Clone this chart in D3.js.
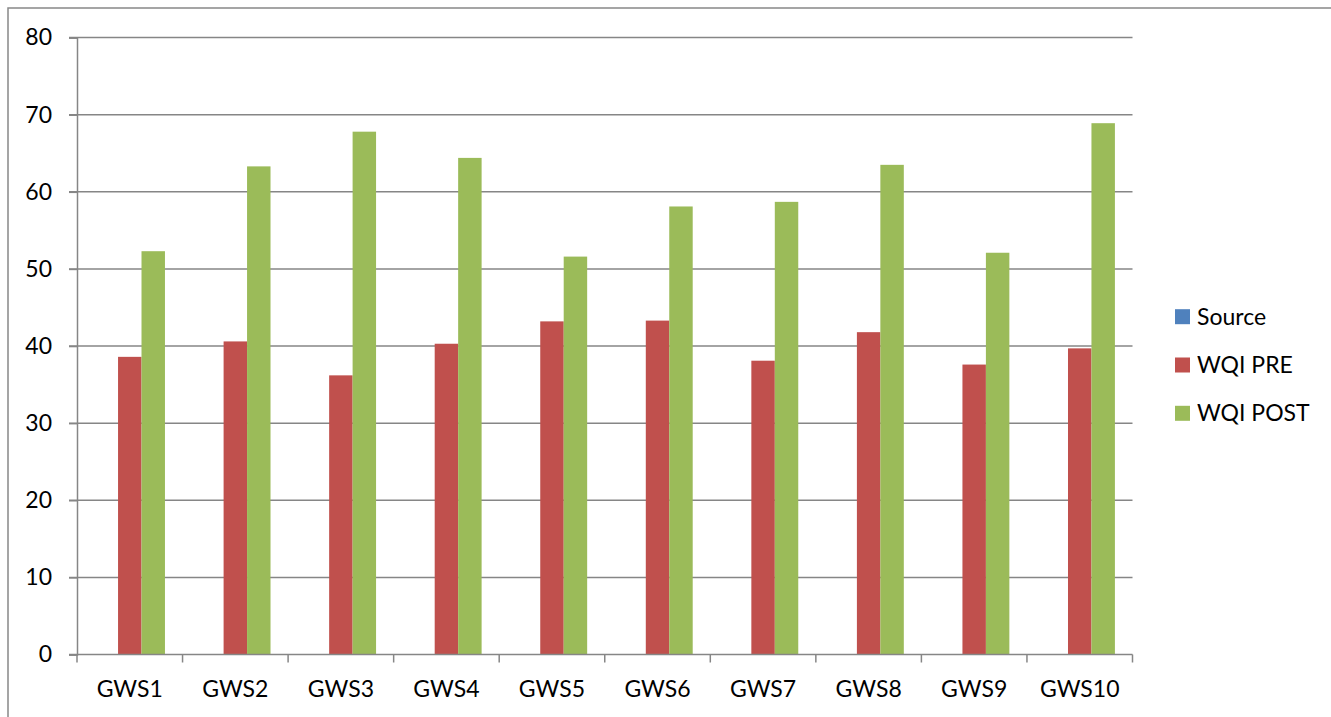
<!DOCTYPE html>
<html><head><meta charset="utf-8">
<script src="https://cdn.jsdelivr.net/npm/d3@7"></script>
<style>body{margin:0;background:#fff}svg{display:block}text{font-family:"Lato","Open Sans",sans-serif;fill:#000}</style>
</head><body><svg id="c" width="1331" height="717"></svg>
<script>
const categories = ["GWS1","GWS2","GWS3","GWS4","GWS5","GWS6","GWS7","GWS8","GWS9","GWS10"];
const seriesNames = ["Source","WQI PRE","WQI POST"];
const sourceValues = [0,0,0,0,0,0,0,0,0,0];
const wqiPre = [38.6,40.6,36.2,40.3,43.2,43.3,38.1,41.8,37.6,39.7];
const wqiPost = [52.3,63.3,67.8,64.4,51.6,58.1,58.7,63.5,52.1,68.9];
const yTicks = [0,10,20,30,40,50,60,70,80];
const colors = ["#4F81BD","#C0504D","#9BBB59"];

const FS = 23;
const svg = d3.select("#c");
const L = 77, R = 1132.5, T = 37.6, B = 654.5;
// outer border
svg.append("path").attr("d","M8,717 L8,8 L1331,8").attr("fill","none").attr("stroke","#888").attr("stroke-width",1.5);

const x = d3.scaleBand().domain(categories).range([L,R]).paddingInner(0).paddingOuter(0);
const y = d3.scaleLinear().domain([0,80]).range([B,T]);
const groupW = x.bandwidth()/4.5*3;
const xs = d3.scaleBand().domain(seriesNames).range([0,groupW]);

// gridlines
svg.append("g").selectAll("line").data(yTicks.filter(d=>d>0)).join("line")
  .attr("x1",L-8).attr("x2",R).attr("y1",d=>y(d)).attr("y2",d=>y(d))
  .attr("stroke","#868686").attr("stroke-width",1.5);

const data = [sourceValues, wqiPre, wqiPost];
data.forEach((vals,si)=>{
  svg.append("g").selectAll("rect").data(vals).join("rect")
    .attr("x",(d,i)=>x(categories[i]) + (x.bandwidth()-groupW)/2 + xs(seriesNames[si]))
    .attr("width",xs.bandwidth())
    .attr("y",d=>y(d)).attr("height",d=>B-y(d))
    .attr("fill",colors[si]);
});

// y axis
const ya = svg.append("g").attr("transform",`translate(${L},0)`)
  .call(d3.axisLeft(y).tickValues(yTicks).tickSize(8).tickPadding(17));
ya.select(".domain").attr("stroke","#868686").attr("stroke-width",1.5);
ya.selectAll(".tick line").attr("stroke","#868686").attr("stroke-width",1.5);
ya.selectAll("text").attr("font-size",FS).attr("font-family","Lato, 'Open Sans', sans-serif").attr("fill","#000");

// x axis
const xa = svg.append("g").attr("transform",`translate(0,${B})`)
  .call(d3.axisBottom(x).tickSize(0).tickPadding(26));
xa.select(".domain").remove();
xa.selectAll("text").attr("font-size",FS).attr("font-family","Lato, 'Open Sans', sans-serif").attr("fill","#000");
svg.append("line").attr("x1",L-8).attr("x2",R).attr("y1",B).attr("y2",B).attr("stroke","#868686").attr("stroke-width",1.5);
const bounds = categories.map(c=>x(c)).concat([R]);
svg.append("g").selectAll("line").data(bounds).join("line")
  .attr("x1",d=>d).attr("x2",d=>d).attr("y1",B).attr("y2",B+8)
  .attr("stroke","#868686").attr("stroke-width",1.5);

// legend
const lg = svg.append("g").selectAll("g").data(seriesNames).join("g")
  .attr("transform",(d,i)=>`translate(1175,${316.7+i*48.3})`);
lg.append("rect").attr("x",0).attr("y",-7.5).attr("width",15).attr("height",15).attr("fill",(d,i)=>colors[i]);
lg.append("text").attr("x",22).attr("y",0).attr("dy","0.35em").attr("font-size",FS).text(d=>d);
</script></body></html>
